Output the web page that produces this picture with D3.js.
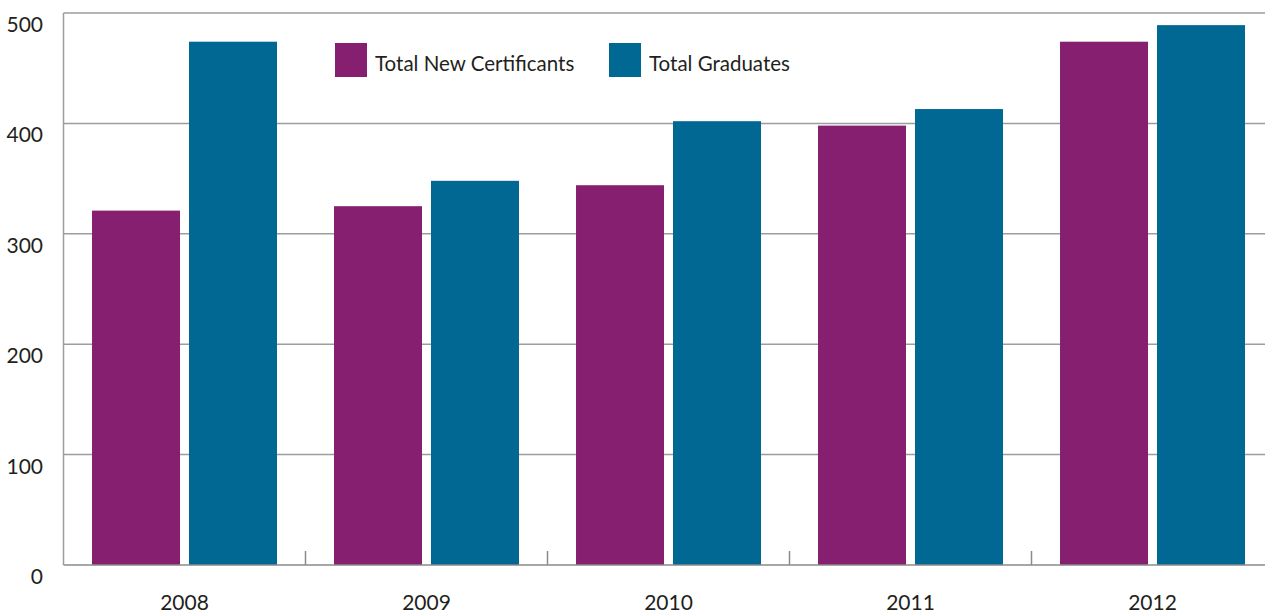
<!DOCTYPE html>
<html>
<head>
<meta charset="utf-8">
<script src="https://cdn.jsdelivr.net/npm/d3@7"></script>
<style>
  html, body { margin: 0; padding: 0; background: #fff; }
  svg { display: block; }
  text { font-family: Lato, "Open Sans", sans-serif; fill: #231f20; }
</style>
</head>
<body>
<svg id="chart" width="1265" height="613"></svg>
<script>
// Yearly totals
const years = ["2008", "2009", "2010", "2011", "2012"];
const seriesNames = ["Total New Certificants", "Total Graduates"];
const newCertificants = [321, 325, 344, 398, 474];
const graduates = [474, 348, 402, 413, 489];
const yTicks = [0, 100, 200, 300, 400, 500];
const seriesColors = ["#861f70", "#006892"];

const rows = years.map((yr, i) => ({ year: yr, values: [newCertificants[i], graduates[i]] }));

const svg = d3.select("#chart");
const plotLeft = 63.5, plotRight = 1273.5, plotTop = 13, plotBottom = 565;

const x = d3.scaleBand().domain(years).range([plotLeft, plotRight]).padding(0);
const xSub = d3.scaleBand().domain(seriesNames).range([0, x.bandwidth()])
  .paddingInner(0.0928).paddingOuter(0.294);
const y = d3.scaleLinear().domain([0, 500]).range([plotBottom, plotTop]);

// horizontal gridlines
svg.append("g")
  .selectAll("line")
  .data(yTicks.filter(d => d > 0))
  .join("line")
  .attr("x1", plotLeft).attr("x2", 1265)
  .attr("y1", d => y(d)).attr("y2", d => y(d))
  .attr("stroke", "#9d9d9d").attr("stroke-width", 1.5);

// bars
const groups = svg.append("g").selectAll("g")
  .data(rows).join("g")
  .attr("transform", d => `translate(${x(d.year)},0)`);
groups.selectAll("rect")
  .data(d => d.values.map((v, i) => ({ name: seriesNames[i], value: v, i })))
  .join("rect")
  .attr("x", d => xSub(d.name))
  .attr("width", xSub.bandwidth())
  .attr("y", d => y(d.value))
  .attr("height", d => y(0) - y(d.value))
  .attr("fill", d => seriesColors[d.i]);

// left axis line
svg.append("line")
  .attr("x1", plotLeft).attr("x2", plotLeft).attr("y1", plotTop).attr("y2", plotBottom)
  .attr("stroke", "#9d9d9d").attr("stroke-width", 1.5);

// baseline
svg.append("line")
  .attr("x1", plotLeft).attr("x2", 1265).attr("y1", plotBottom).attr("y2", plotBottom)
  .attr("stroke", "#8a8a8a").attr("stroke-width", 1.5);

// separators between years
svg.append("g").selectAll("line")
  .data(years.slice(1))
  .join("line")
  .attr("x1", d => x(d)).attr("x2", d => x(d))
  .attr("y1", plotBottom - 14).attr("y2", plotBottom)
  .attr("stroke", "#8a8a8a").attr("stroke-width", 1.5);

// y labels, placed just under each gridline
svg.append("g").selectAll("text")
  .data(yTicks)
  .join("text")
  .attr("x", 43)
  .attr("y", d => y(d) + 19)
  .attr("text-anchor", "end")
  .attr("font-size", 21)
  .text(d => d);

// x labels
svg.append("g").selectAll("text")
  .data(years)
  .join("text")
  .attr("x", d => x(d) + x.bandwidth() / 2)
  .attr("y", 610)
  .attr("text-anchor", "middle")
  .attr("font-size", 21)
  .text(d => d);

// legend
const legendX = [335, 609];
const legend = svg.append("g").selectAll("g")
  .data(seriesNames)
  .join("g")
  .attr("transform", (d, i) => `translate(${legendX[i]},43)`);
legend.append("rect")
  .attr("width", 32).attr("height", 34)
  .attr("fill", (d, i) => seriesColors[i]);
legend.append("text")
  .attr("x", 40).attr("y", 28)
  .attr("font-size", 20.5)
  .text(d => d);
</script>
</body>
</html>
